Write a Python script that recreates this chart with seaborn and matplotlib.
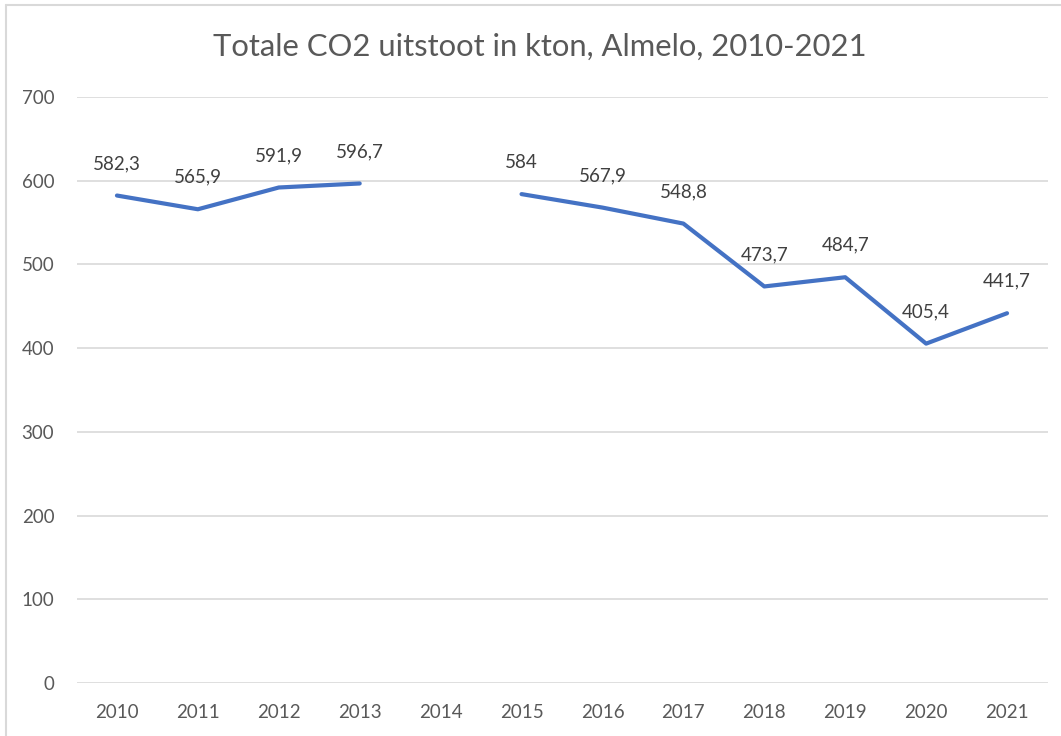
import numpy as np
import pandas as pd
import matplotlib
matplotlib.use("Agg")
import matplotlib.pyplot as plt
from matplotlib.lines import Line2D
import seaborn as sns

years = ["2010", "2011", "2012", "2013", "2014", "2015", "2016", "2017", "2018", "2019", "2020", "2021"]
values = [582.3, 565.9, 591.9, 596.7, np.nan, 584.0, 567.9, 548.8, 473.7, 484.7, 405.4, 441.7]
labels = ["582,3", "565,9", "591,9", "596,7", "", "584", "567,9", "548,8", "473,7", "484,7", "405,4", "441,7"]
segments = [0, 0, 0, 0, -1, 1, 1, 1, 1, 1, 1, 1]
yticks = [0, 100, 200, 300, 400, 500, 600, 700]
title = "Totale CO2 uitstoot in kton, Almelo, 2010-2021"

sns.set_theme(style="white")
plt.rcParams["font.family"] = ["Lato", "DejaVu Sans"]

W, H = 1061, 736
fig = plt.figure(figsize=(W / 100, H / 100), dpi=100)
ax = fig.add_axes([76.5 / W, 1 - 683 / H, (1047.5 - 76.5) / W, (683 - 97) / H])

df = pd.DataFrame({"pos": np.arange(len(years)), "val": values, "seg": segments})
df = df[df["seg"] >= 0]
sns.lineplot(data=df, x="pos", y="val", units="seg", estimator=None,
             color="#4472C4", linewidth=3.0, ax=ax, legend=False)

for i, (v, lab) in enumerate(zip(values, labels)):
    if not np.isnan(v):
        ax.annotate(lab, (i, v), xytext=(0, 23), textcoords="offset points",
                    ha="center", va="center", fontsize=13.5, color="#404040")

ax.set_xlim(-0.5, len(years) - 0.5)
ax.set_ylim(0, 700)
ax.set_xticks(np.arange(len(years)))
ax.set_xticklabels(years)
ax.set_yticks(yticks)
ax.set_yticklabels([str(t) for t in yticks])
ax.tick_params(axis="both", length=0, labelsize=13.5, labelcolor="#595959")
ax.tick_params(axis="y", pad=16)
ax.tick_params(axis="x", pad=15)
ax.set_xlabel("")
ax.set_ylabel("")
for s in ax.spines.values():
    s.set_visible(False)
ax.grid(axis="y", color="#D9D9D9", linewidth=1.2)
ax.set_axisbelow(True)

fig.text(540 / W, 1 - 47 / H, title, ha="center", va="center",
         fontsize=22.3, color="#595959", fontweight="normal")

fig.add_artist(Line2D([6 / W, 6 / W], [0, 1 - 5 / H], color="#D9D9D9", linewidth=1.5, transform=fig.transFigure))
fig.add_artist(Line2D([6 / W, 1], [1 - 5 / H, 1 - 5 / H], color="#D9D9D9", linewidth=1.5, transform=fig.transFigure))

fig.savefig("out.png", dpi=100, facecolor="white")
